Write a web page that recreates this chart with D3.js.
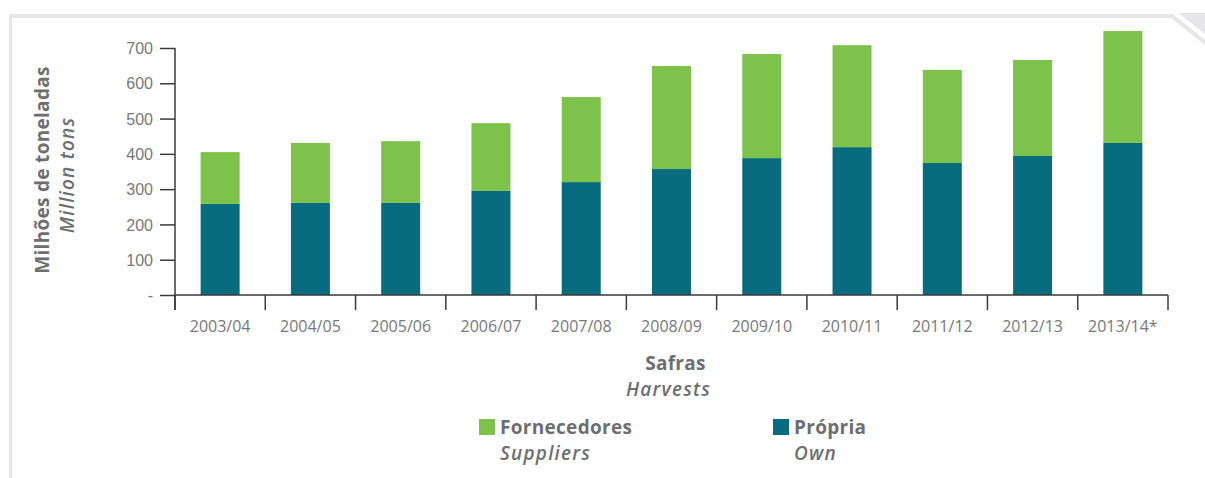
<!DOCTYPE html>
<html>
<head>
<meta charset="utf-8">
<script src="https://cdn.jsdelivr.net/npm/d3@7"></script>
<style>
    body { margin: 0; background: #fff; }
    svg { display: block; font-family: "Open Sans", "Noto Sans", sans-serif; }
    .tickLabel { fill: #77787b; font-size: 16px; font-weight: 400; }
    .title { fill: #6d6e71; font-size: 19px; font-weight: 700; letter-spacing: 0.3px; }
    .subtitle { fill: #6d6e71; font-size: 19px; font-style: italic; font-weight: 600; letter-spacing: 1.2px; }
</style>
</head>
<body>
<svg class="chart"></svg>
<script>
var harvests = ["2003/04", "2004/05", "2005/06", "2006/07", "2007/08", "2008/09",
    "2009/10", "2010/11", "2011/12", "2012/13", "2013/14*"];
var own = [258, 261, 261, 295, 320, 357, 388, 419, 374, 394, 431];
var suppliers = [147, 170, 175, 192, 241, 292, 295, 289, 264, 272, 317];
var yTicks = [0, 100, 200, 300, 400, 500, 600, 700];
var yTickLabels = ["-", "100", "200", "300", "400", "500", "600", "700"];

var colorOwn = "#066c7e";
var colorSuppliers = "#7dc24a";
var axisColor = "#3a3a3a";

initChart();

function initChart() {
    var width = 1205, height = 478;
    var plot = {left: 175, right: 1168, top: 48, bottom: 295};

    var svg = d3.select(".chart")
            .attr("width", width)
            .attr("height", height);

    // page frame
    var frame = svg.append("g").attr("fill", "#e6e6e8");
    frame.append("rect").attr("x", 9).attr("y", 14).attr("width", 3).attr("height", height - 14);
    frame.append("polygon").attr("points", "9,14 1173,14 1205,40 1205,45 1171,18 9,18");
    frame.append("polygon").attr("points", "1178,13 1205,13 1205,34");

    var xRange = d3.scaleBand()
            .domain(harvests)
            .range([plot.left, plot.right])
            .paddingInner(0)
            .paddingOuter(0);
    var barWidth = 39;

    var yRange = d3.scaleLinear()
            .domain([0, 700])
            .range([plot.bottom, plot.top]);

    // stacked bars
    var rows = harvests.map(function (h, i) {
        return {harvest: h, own: own[i], suppliers: suppliers[i]};
    });
    var stack = d3.stack().keys(["own", "suppliers"])(rows);
    var colors = {own: colorOwn, suppliers: colorSuppliers};

    svg.append("g").selectAll("g")
            .data(stack)
            .enter().append("g")
            .attr("fill", function (s) { return colors[s.key]; })
            .selectAll("rect")
            .data(function (s) { return s; })
            .enter().append("rect")
            .attr("x", function (d) {
                return xRange(d.data.harvest) + (xRange.bandwidth() - barWidth) / 2;
            })
            .attr("width", barWidth)
            .attr("y", function (d) { return yRange(d[1]); })
            .attr("height", function (d) { return yRange(d[0]) - yRange(d[1]); });

    // y axis
    var yAxis = svg.append("g")
            .attr("transform", "translate(" + plot.left + ",0)")
            .call(d3.axisLeft(yRange)
                    .tickValues(yTicks)
                    .tickSize(15)
                    .tickPadding(7)
                    .tickFormat(function (d, i) { return yTickLabels[i]; }));
    yAxis.select(".domain").remove();
    yAxis.selectAll("line").attr("stroke", axisColor).attr("stroke-width", 1.5);
    yAxis.selectAll("text").attr("class", "tickLabel").attr("font-family", null).attr("font-size", null)
            .attr("fill", null).attr("dy", "0.35em");
    svg.append("line")
            .attr("x1", plot.left).attr("x2", plot.left)
            .attr("y1", yRange(700)).attr("y2", plot.bottom + 15)
            .attr("stroke", axisColor).attr("stroke-width", 1.5);

    // x axis: line and separators between harvests
    svg.append("line")
            .attr("x1", plot.left).attr("x2", plot.right)
            .attr("y1", plot.bottom).attr("y2", plot.bottom)
            .attr("stroke", axisColor).attr("stroke-width", 1.5);
    var edges = harvests.map(function (h) { return xRange(h); }).concat([plot.right]);
    svg.append("g").selectAll("line")
            .data(edges)
            .enter().append("line")
            .attr("x1", function (d) { return d; }).attr("x2", function (d) { return d; })
            .attr("y1", plot.bottom).attr("y2", plot.bottom + 15)
            .attr("stroke", axisColor).attr("stroke-width", 1.5);
    svg.append("g").selectAll("text")
            .data(harvests)
            .enter().append("text")
            .attr("class", "tickLabel")
            .attr("x", function (d) { return xRange(d) + xRange.bandwidth() / 2; })
            .attr("y", 332)
            .attr("text-anchor", "middle")
            .text(function (d) { return d; });

    // axis titles
    var xMid = (plot.left + plot.right) / 2;
    svg.append("text").attr("class", "title").attr("x", xMid + 4).attr("y", 370)
            .attr("text-anchor", "middle").text("Safras");
    svg.append("text").attr("class", "subtitle").attr("x", xMid - 3).attr("y", 396)
            .attr("text-anchor", "middle").text("Harvests");

    svg.append("text").attr("class", "title")
            .attr("transform", "translate(49,170) rotate(-90)")
            .attr("text-anchor", "middle").text("Milhões de toneladas");
    svg.append("text").attr("class", "subtitle")
            .attr("transform", "translate(74,175) rotate(-90)")
            .attr("text-anchor", "middle").text("Million tons");

    // legend
    var legend = [
        {name: "Fornecedores", sub: "Suppliers", color: colorSuppliers, x: 479},
        {name: "Própria", sub: "Own", color: colorOwn, x: 773}
    ];
    var item = svg.append("g").selectAll("g")
            .data(legend)
            .enter().append("g")
            .attr("transform", function (d) { return "translate(" + d.x + ",419)"; });
    item.append("rect").attr("width", 16).attr("height", 16)
            .attr("fill", function (d) { return d.color; });
    item.append("text").attr("class", "title").attr("x", 21).attr("y", 15)
            .text(function (d) { return d.name; });
    item.append("text").attr("class", "subtitle").attr("x", 21).attr("y", 41)
            .text(function (d) { return d.sub; });
}
</script>
</body>
</html>
